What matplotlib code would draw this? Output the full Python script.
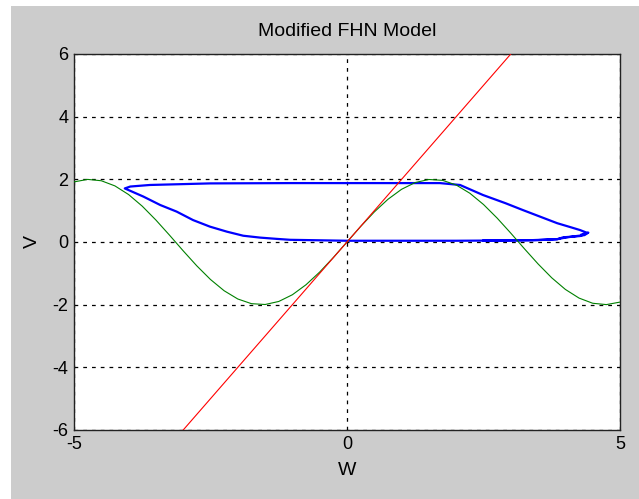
# Phase plane of the modified FHN model: limit cycle with both nullclines

import matplotlib.pyplot as plt
from matplotlib.patches import Rectangle

# nullcline V = 2W
line_w = [-3.0, 3.0]
line_v = [-6.0, 6.0]

# sinusoidal nullcline
sine_w = [-5.0, -4.75, -4.5, -4.25, -4.0, -3.75, -3.5, -3.25, -3.0, -2.75,
          -2.5, -2.25, -2.0, -1.75, -1.5, -1.25, -1.0, -0.75, -0.5, -0.25,
          0.0, 0.25, 0.5, 0.75, 1.0, 1.25, 1.5, 1.75, 2.0, 2.25,
          2.5, 2.75, 3.0, 3.25, 3.5, 3.75, 4.0, 4.25, 4.5, 4.75, 5.0]
sine_v = [1.918, 1.998, 1.955, 1.790, 1.514, 1.143, 0.701, 0.217, -0.282, -0.763,
          -1.197, -1.556, -1.819, -1.968, -1.995, -1.898, -1.683, -1.363, -0.959, -0.495,
          0.0, 0.495, 0.959, 1.363, 1.683, 1.898, 1.995, 1.968, 1.819, 1.556,
          1.197, 0.763, 0.282, -0.217, -0.701, -1.143, -1.514, -1.790, -1.955, -1.998, -1.918]

# trajectory (W, V)
traj_w = [4.30, 4.42, 4.35, 4.20, 4.00, 3.85, 3.50, 3.00, 2.00, 1.00, 0.00,
          -1.04, -1.29, -1.59, -1.90, -2.20, -2.51, -2.82, -3.12, -3.42, -3.73, -4.07,
          -3.97, -3.61, -2.51, -1.04, 0.00, 1.00, 1.70, 2.07, 2.49,
          2.90, 3.22, 3.55, 3.85, 4.10, 4.27, 4.40, 4.27, 3.96, 3.85, 3.40, 2.50]
traj_v = [0.24, 0.30, 0.22, 0.19, 0.14, 0.09, 0.06, 0.05, 0.04, 0.04, 0.04,
          0.07, 0.10, 0.14, 0.20, 0.33, 0.49, 0.70, 0.97, 1.18, 1.45, 1.71,
          1.77, 1.82, 1.87, 1.88, 1.88, 1.88, 1.88, 1.82, 1.50,
          1.24, 1.02, 0.80, 0.60, 0.47, 0.38, 0.29, 0.19, 0.15, 0.09, 0.06, 0.05]

plt.rcParams['font.family'] = ['Liberation Sans', 'DejaVu Sans']
plt.rcParams['axes.unicode_minus'] = False

fig = plt.figure(figsize=(6.39, 4.99), dpi=100, facecolor='white')
fig.patches.append(Rectangle((11 / 639, 0), 1, 1 - 6 / 499, transform=fig.transFigure,
                             facecolor='#cccccc', edgecolor='none', zorder=-10))

ax = fig.add_axes([74 / 639, 1 - 430 / 499, 546 / 639, 376 / 499])
ax.set_facecolor('white')

ax.plot(traj_w, traj_v, color='#0000ff', lw=1.6, zorder=3)
ax.plot(sine_w, sine_v, color='#008000', lw=0.8, zorder=4)
ax.plot(line_w, line_v, color='#ff0000', lw=0.8, zorder=4)

ax.set_xlim(-5, 5)
ax.set_ylim(-6, 6)
ax.set_xticks([-5, 0, 5])
ax.set_yticks([-6, -4, -2, 0, 2, 4, 6])
ax.grid(True, color='black', linestyle=(0, (3, 4)), linewidth=0.9)
ax.set_axisbelow(True)
ax.tick_params(direction='in', length=0, labelsize=13, pad=4)
for s in ax.spines.values():
    s.set_linewidth(1.0)
    s.set_color('#222222')

ax.set_title('Modified FHN Model', fontsize=14, pad=13)
ax.set_xlabel('W', fontsize=14, labelpad=7)
ax.set_ylabel('V', fontsize=14, labelpad=8)

fig.savefig('out.png', dpi=100, facecolor=fig.get_facecolor())
